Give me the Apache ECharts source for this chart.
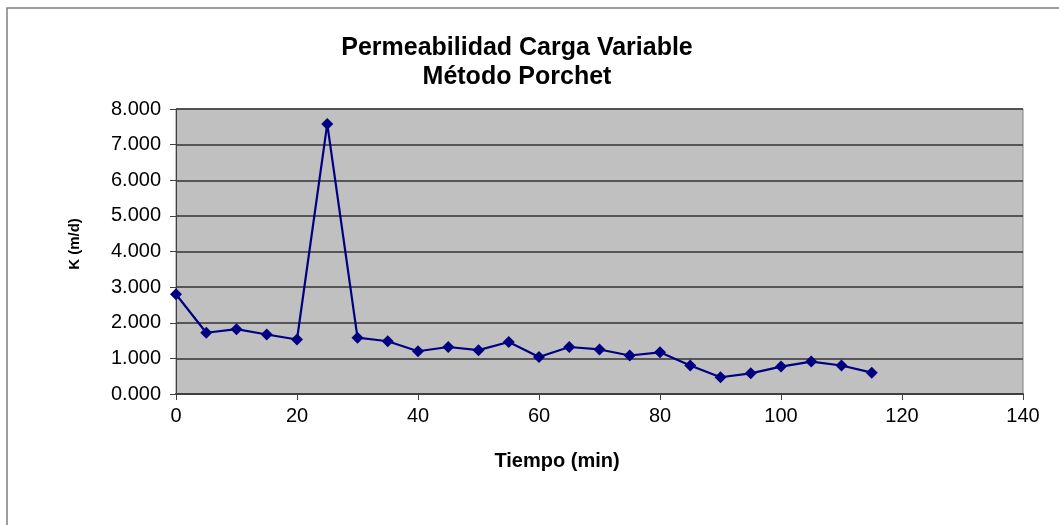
<!DOCTYPE html>
<html>
<head>
<meta charset="utf-8">
<script src="https://cdn.jsdelivr.net/npm/echarts@6/dist/echarts.min.js"></script>
<style>
html,body{margin:0;padding:0;background:#fff;}
#chart{width:1059px;height:525px;}
</style>
</head>
<body>
<div id="chart"></div>
<script>
const titleText = "Permeabilidad Carga Variable\nMétodo Porchet";
const xName = "Tiempo (min)";
const yName = "K (m/d)";
const times = [0,5,10,15,20,25,30,35,40,45,50,55,60,65,70,75,80,85,90,95,100,105,110,115];
const kValues = [2.80,1.72,1.82,1.67,1.53,7.58,1.58,1.48,1.20,1.32,1.23,1.46,1.04,1.32,1.25,1.08,1.17,0.80,0.47,0.58,0.77,0.91,0.80,0.60];

const chart = echarts.init(document.getElementById('chart'));
const font = "'Liberation Sans', Arial, sans-serif";
chart.setOption({
  animation: false,
  backgroundColor: '#ffffff',
  title: {
    text: titleText,
    left: 512, top: 29, textAlign: 'center',
    textStyle: {fontFamily: font, fontSize: 25, fontWeight: 'bold', color: '#000', lineHeight: 29}
  },
  grid: {left: 176, right: 36, top: 109, bottom: 131, show: true, backgroundColor: '#c0c0c0', borderColor: '#808080', borderWidth: 1},
  xAxis: {
    type: 'value', min: 0, max: 140, interval: 20,
    axisLine: {show: true, onZero: false, lineStyle: {color: '#404040', width: 2}},
    axisTick: {show: true, length: 6, lineStyle: {color: '#404040'}},
    axisLabel: {fontFamily: font, fontSize: 20, color: '#000', margin: 12},
    splitLine: {show: false}
  },
  yAxis: {
    type: 'value', min: 0, max: 8, interval: 1,
    axisLine: {show: true, lineStyle: {color: '#404040', width: 1}},
    axisTick: {show: true, length: 6, lineStyle: {color: '#404040'}},
    axisLabel: {fontFamily: font, fontSize: 20, color: '#000', margin: 15, formatter: v => v.toFixed(3)},
    splitLine: {show: true, lineStyle: {color: '#333333', width: 1.5}}
  },
  graphic: [
    {type: 'rect', shape: {x: 7, y: 8, width: 1100, height: 600}, style: {fill: 'none', stroke: '#7f7f7f', lineWidth: 1.5}, z: -1, silent: true},
    {type: 'text', x: 557, y: 461, style: {text: xName, textAlign: 'center', textVerticalAlign: 'middle', fontFamily: font, fontSize: 20, fontWeight: 'bold', fill: '#000'}},
    {type: 'text', rotation: Math.PI/2, x: 75, y: 244, style: {text: yName, textAlign: 'center', textVerticalAlign: 'middle', fontFamily: font, fontSize: 15, fontWeight: 'bold', fill: '#000'}}
  ],
  series: [{
    type: 'line',
    data: times.map((t, i) => [t, kValues[i]]),
    symbol: 'diamond', symbolSize: 12,
    lineStyle: {color: '#000080', width: 2.2},
    itemStyle: {color: '#000080'}
  }]
});
</script>
</body>
</html>
